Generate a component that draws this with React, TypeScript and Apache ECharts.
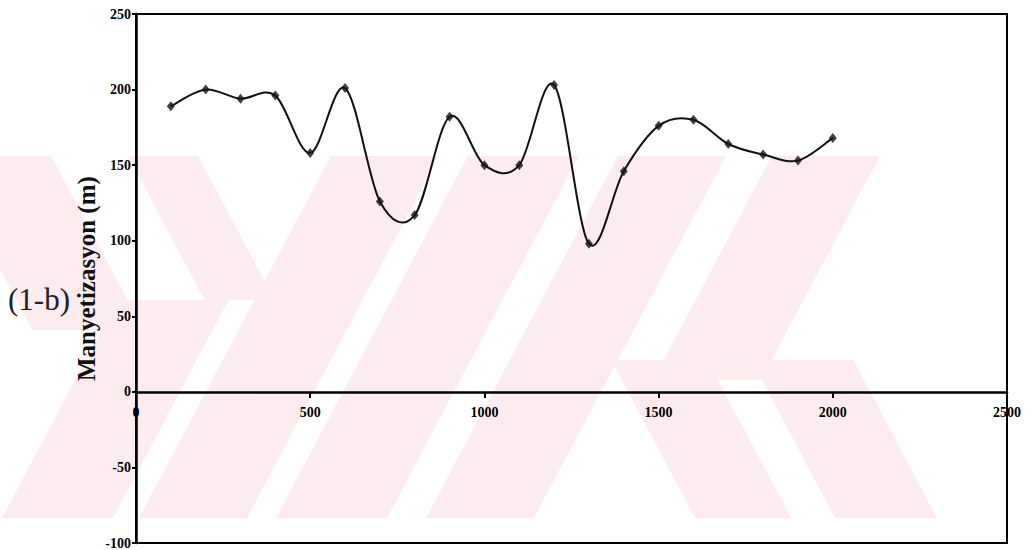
import React, { useEffect, useRef } from "react";
import * as echarts from "echarts";

const distances = [100, 200, 300, 400, 500, 600, 700, 800, 900, 1000, 1100, 1200, 1300, 1400, 1500, 1600, 1700, 1800, 1900, 2000];
const magnetization = [189, 200, 194, 196, 158, 201, 126, 117, 182, 150, 150, 203, 98, 146, 176, 180, 164, 157, 153, 168];
const yTicks = [-100, -50, 0, 50, 100, 150, 200, 250];
const xTicks = [0, 500, 1000, 1500, 2000, 2500];

const PINK = "#fdecef";
const S = 0.53;
const YB = 518;

// band defined by its x-range extrapolated to y=518, its lean (+1 "/" , -1 "\\"), and vertical extent
function band(x0: number, x1: number, dir: number, yTop: number, yBot: number) {
  const at = (x: number, y: number) => [x + (YB - y) * S * dir, y];
  return {
    type: "polygon",
    z: -10,
    silent: true,
    shape: { points: [at(x0, yBot), at(x1, yBot), at(x1, yTop), at(x0, yTop)] },
    style: { fill: PINK },
  };
}

export default function App() {
  const ref = useRef<HTMLDivElement>(null);
  useEffect(() => {
    if (!ref.current) return;
    const chart = echarts.init(ref.current, null, { renderer: "svg" });
    const pairs = distances.map((d, i) => [d, magnetization[i]]);
    const n = pairs.length;
    const watermark = [
      band(2, 113, 1, 300, 518),
      band(139, 247, 1, 156, 518),
      band(276, 387, 1, 156, 518),
      band(426, 534, 1, 156, 518),
      band(132, 243, -1, 156, 330),
      band(320, 390, -1, 156, 300),
      band(580, 688, 1, 156, 380),
      band(695, 791, -1, 360, 518),
      band(835, 937, -1, 360, 518),
    ];
    chart.setOption({
      animation: false,
      backgroundColor: "#ffffff",
      grid: {
        left: 136, right: 26, top: 14, bottom: 7,
        show: true, borderColor: "#000", borderWidth: 2, backgroundColor: "transparent",
        containLabel: false, outerBoundsMode: "none",
      },
      graphic: [
        ...watermark,
        {
          type: "text",
          left: 8,
          top: 284,
          z: 10,
          style: { text: "(1-b)", font: "31px 'Liberation Serif', serif", fill: "#222" },
        },
        {
          type: "text",
          x: 74,
          y: 381,
          rotation: Math.PI / 2,
          z: 10,
          style: { text: "Manyetizasyon (m)", font: "bold 25px 'Liberation Serif', serif", fill: "#111", align: "left", verticalAlign: "top" },
        },
      ],
      xAxis: {
        type: "value",
        position: "bottom",
        offset: -151,
        min: xTicks[0],
        max: xTicks[xTicks.length - 1],
        interval: 500,
        splitLine: { show: false },
        axisLine: { onZero: false, lineStyle: { color: "#000", width: 2.5 } },
        axisTick: { show: true, length: 6, inside: false, lineStyle: { color: "#000", width: 2 } },
        axisLabel: { color: "#000", fontFamily: "'Liberation Serif', serif", fontWeight: "bold", fontSize: 14, margin: 13, formatter: (v: number) => String(v) },
      },
      yAxis: {
        type: "value",
        min: yTicks[0],
        max: yTicks[yTicks.length - 1],
        interval: 50,
        splitLine: { show: false },
        axisLine: { show: true, lineStyle: { color: "#000", width: 2.5 } },
        axisTick: { show: true, length: 4, lineStyle: { color: "#000", width: 2 } },
        axisLabel: { color: "#000", fontFamily: "'Liberation Serif', serif", fontWeight: "bold", fontSize: 14, margin: 5, formatter: (v: number) => String(v) },
      },
      series: [
        {
          type: "custom",
          data: pairs,
          z: 3,
          silent: true,
          renderItem: (params: any, api: any) => {
            const i = params.dataIndex;
            if (i >= n - 1) return { type: "group", children: [] };
            const P = (j: number) => api.coord(pairs[Math.max(0, Math.min(n - 1, j))]);
            const p0 = P(i - 1), p1 = P(i), p2 = P(i + 1), p3 = P(i + 2);
            const t = 1 / 6;
            return {
              type: "bezierCurve",
              shape: {
                x1: p1[0], y1: p1[1], x2: p2[0], y2: p2[1],
                cpx1: p1[0] + (p2[0] - p0[0]) * t, cpy1: p1[1] + (p2[1] - p0[1]) * t,
                cpx2: p2[0] - (p3[0] - p1[0]) * t, cpy2: p2[1] - (p3[1] - p1[1]) * t,
              },
              style: { stroke: "#111", lineWidth: 2, fill: "none" },
            };
          },
        },
        {
          type: "scatter",
          data: pairs,
          z: 4,
          symbol: "diamond",
          symbolSize: [8, 10],
          itemStyle: { color: "#111" },
        },
      ],
    });
    return () => chart.dispose();
  }, []);
  return <div ref={ref} style={{ position: "fixed", left: 0, top: 0, width: 1033, height: 550 }} />;
}
